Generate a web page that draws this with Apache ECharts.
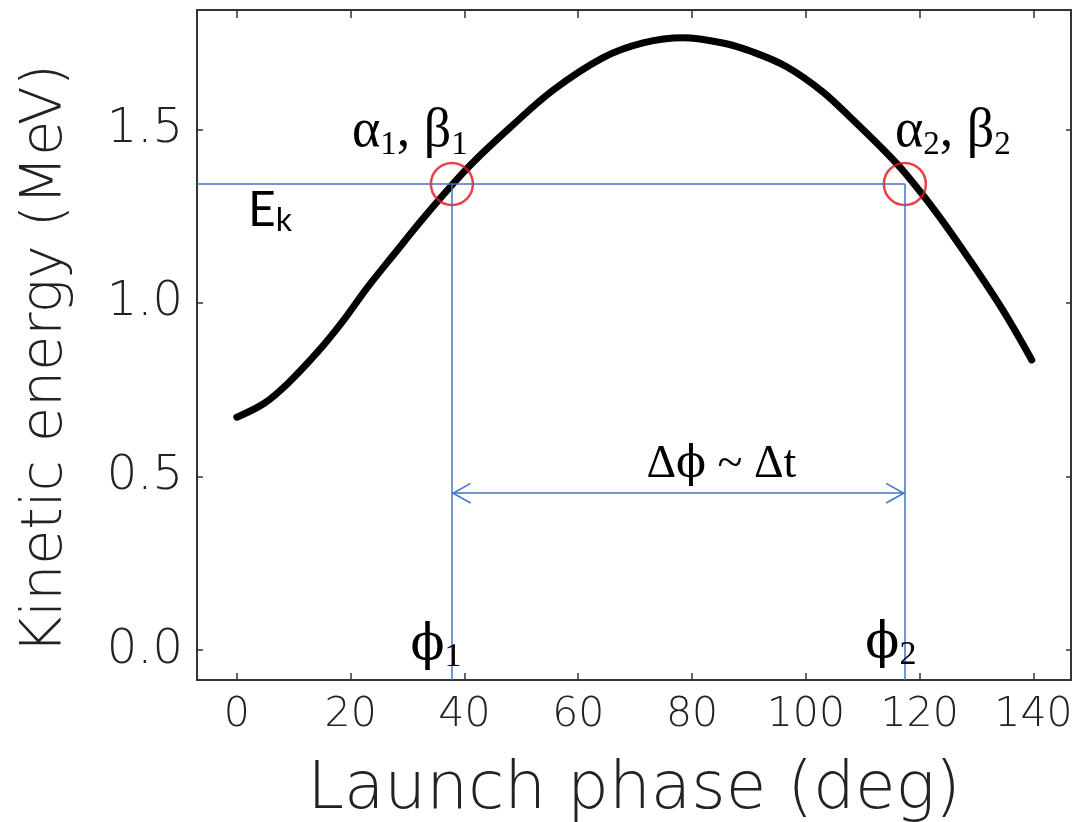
<!DOCTYPE html>
<html>
<head>
<meta charset="utf-8">
<script src="https://cdn.jsdelivr.net/npm/echarts@6/dist/echarts.min.js"></script>
<style>
  html, body { margin: 0; padding: 0; background: #fff; }
  #chart { width: 1078px; height: 822px; }
</style>
</head>
<body>
<div id="chart"></div>
<script>
// Kinetic energy gained by the bunch versus its launch phase
const phaseDeg = [0, 4.9, 9, 14.2, 18.5, 23, 27.8, 32.5, 37.8, 41.5, 48, 55.5, 64.3,
                  71.4, 78.4, 85.4, 90.7, 96.7, 103, 108.3, 114.2, 117.4, 123, 128.8, 134.6, 139.7];
const kineticMeV = [0.671, 0.712, 0.769, 0.859, 0.945, 1.046, 1.144, 1.239, 1.340, 1.405, 1.505, 1.612, 1.706,
                    1.749, 1.764, 1.749, 1.723, 1.680, 1.608, 1.527, 1.432, 1.375, 1.259, 1.124, 0.980, 0.836];

// Axis extents and tick positions
const phaseRange = [-7, 146.6];
const energyRange = [-0.086, 1.844];
const phaseTicks = [0, 20, 40, 60, 80, 100, 120, 140];
const energyTicks = [0, 0.5, 1.0, 1.5];

// Chosen energy E_k and the two launch phases that reach it
const energyEk = 1.343;
const phase1 = 37.8;
const phase2 = 117.4;
const spreadLevel = 0.452;   // height of the Δϕ arrow

const curve = phaseDeg.map((p, i) => [p, kineticMeV[i]]);

const frameColor = '#333';
const guideBlue = '#4472c4';
const tickFont = '"DejaVu Sans Light", "DejaVu Sans", sans-serif';
const serif = '"Liberation Serif", "DejaVu Serif", serif';
const phiFont = '"DejaVu Serif", "Liberation Serif", serif';
const sans = 'Lato, "Open Sans", sans-serif';

// open chevron, tip at the symbol centre so it lands on the line end
const chevron = 'path://M0,0 L0.01,0 L0,0.01 Z M0,18 L10,36 L8.7,36.7 L0,21.1 L-8.7,36.7 L-10,36 Z';

const subRich = {
  g: { fontFamily: serif, fontSize: 54, lineHeight: 60, color: '#000' },
  s: { fontFamily: serif, fontSize: 33, lineHeight: 34, verticalAlign: 'bottom', color: '#000' }
};
const phiRich = {
  g: { fontFamily: phiFont, fontSize: 50, lineHeight: 56, color: '#000' },
  s: { fontFamily: serif, fontSize: 34, lineHeight: 34, verticalAlign: 'bottom', color: '#000' }
};
const ekRich = {
  g: { fontFamily: sans, fontSize: 48, lineHeight: 52, color: '#000' },
  s: { fontFamily: sans, fontSize: 32, lineHeight: 30, verticalAlign: 'bottom', color: '#000' }
};
const deltaRich = {
  d: { fontFamily: serif, fontSize: 46, lineHeight: 52, color: '#000' },
  p: { fontFamily: phiFont, fontSize: 44, lineHeight: 52, color: '#000' }
};

function textMark(coord, formatter, rich, offset) {
  return {
    coord: coord,
    symbol: 'circle',
    symbolSize: 1,
    itemStyle: { color: 'rgba(0,0,0,0)' },
    label: { show: true, position: 'inside', offset: offset, formatter: formatter, rich: rich }
  };
}

const baseX = {
  type: 'value',
  min: phaseRange[0],
  max: phaseRange[1],
  splitLine: { show: false },
  axisLine: { show: true, onZero: false, lineStyle: { color: frameColor, width: 2 } }
};
const baseY = {
  type: 'value',
  min: energyRange[0],
  max: energyRange[1],
  splitLine: { show: false },
  axisLine: { show: true, onZero: false, lineStyle: { color: frameColor, width: 2 } }
};

const chart = echarts.init(document.getElementById('chart'), null, { renderer: 'canvas' });
chart.setOption({
  backgroundColor: '#fff',
  animation: false,
  grid: { left: 197, right: 7, top: 10, bottom: 142, containLabel: false, outerBoundsMode: 'none' },
  // vertical axis title
  graphic: [{
    type: 'text',
    x: 46,
    y: 359,
    rotation: Math.PI / 2,
    silent: true,
    style: {
      text: 'Kinetic energy (MeV)',
      fontFamily: tickFont, fontWeight: 200, fontSize: 57, fill: '#222',
      align: 'center', verticalAlign: 'middle'
    }
  }],
  xAxis: [
    Object.assign({}, baseX, {
      position: 'bottom',
      name: 'Launch phase (deg)',
      nameLocation: 'middle',
      nameGap: 78,
      nameTextStyle: { fontFamily: tickFont, fontWeight: 200, fontSize: 66, color: '#222' },
      axisTick: { show: true, inside: true, length: 7, customValues: phaseTicks,
                  lineStyle: { color: frameColor, width: 1.5 } },
      axisLabel: { show: true, margin: 15, customValues: phaseTicks,
                   fontFamily: tickFont, fontWeight: 200, fontSize: 41, color: '#222',
                   formatter: v => String(Math.round(v)) }
    }),
    Object.assign({}, baseX, {
      position: 'top',
      axisTick: { show: true, inside: true, length: 8, customValues: phaseTicks,
                  lineStyle: { color: frameColor, width: 1.5 } },
      axisLabel: { show: false }
    })
  ],
  yAxis: [
    Object.assign({}, baseY, {
      position: 'left',
      axisTick: { show: true, inside: true, length: 6, customValues: energyTicks,
                  lineStyle: { color: frameColor, width: 1.5 } },
      axisLabel: { show: true, margin: 14, customValues: energyTicks,
                   fontFamily: tickFont, fontWeight: 200, fontSize: 48, color: '#222',
                   formatter: v => v.toFixed(1) }
    }),
    Object.assign({}, baseY, {
      position: 'right',
      axisTick: { show: true, inside: true, length: 5, customValues: energyTicks,
                  lineStyle: { color: frameColor, width: 1.5 } },
      axisLabel: { show: false }
    })
  ],
  series: [
    {
      name: 'Guides',
      type: 'scatter',
      z: 2,
      silent: true,
      data: [],
      markLine: {
        silent: true,
        symbol: 'none',
        animation: false,
        label: { show: false },
        lineStyle: { color: guideBlue, width: 1.5, type: 'solid' },
        data: [
          [{ coord: [phaseRange[0], energyEk] }, { coord: [phase2, energyEk] }],
          [{ coord: [phase1, energyEk] }, { coord: [phase1, energyRange[0]] }],
          [{ coord: [phase2, energyEk] }, { coord: [phase2, energyRange[0]] }],
          [
            { coord: [phase1, spreadLevel], symbol: chevron, symbolSize: [21, 38] },
            { coord: [phase2, spreadLevel], symbol: chevron, symbolSize: [21, 38] }
          ]
        ]
      }
    },
    {
      name: 'Kinetic energy',
      type: 'line',
      z: 3,
      data: curve,
      smooth: 0.35,
      showSymbol: false,
      lineStyle: { color: '#000', width: 7, cap: 'round', join: 'round' }
    },
    {
      name: 'Crossings',
      type: 'scatter',
      z: 4,
      silent: true,
      symbol: 'circle',
      symbolSize: 42,
      itemStyle: { color: 'rgba(0,0,0,0)', borderColor: '#e3121b', borderWidth: 2.5 },
      data: [[phase1, energyEk], [phase2, energyEk]],
      markPoint: {
        silent: true,
        animation: false,
        data: [
          textMark([phase1, energyEk], '{g|α}{s|1}{g|, β}{s|1}', subRich, [-42, -52]),
          textMark([phase2, energyEk], '{g|α}{s|2}{g|, β}{s|2}', subRich, [48, -52]),
          textMark([phaseRange[0], energyEk], '{g|E}{s|k}', ekRich, [73, 27]),
          textMark([phase1, energyRange[0]], '{g|ϕ}{s|1}', phiRich, [-16, -34]),
          textMark([phase2, energyRange[0]], '{g|ϕ}{s|2}', phiRich, [-14, -36]),
          textMark([(phase1 + phase2) / 2, spreadLevel], '{d|Δ}{p|ϕ}{d| ~ Δt}', deltaRich, [43, -28])
        ]
      }
    }
  ]
});
</script>
</body>
</html>
